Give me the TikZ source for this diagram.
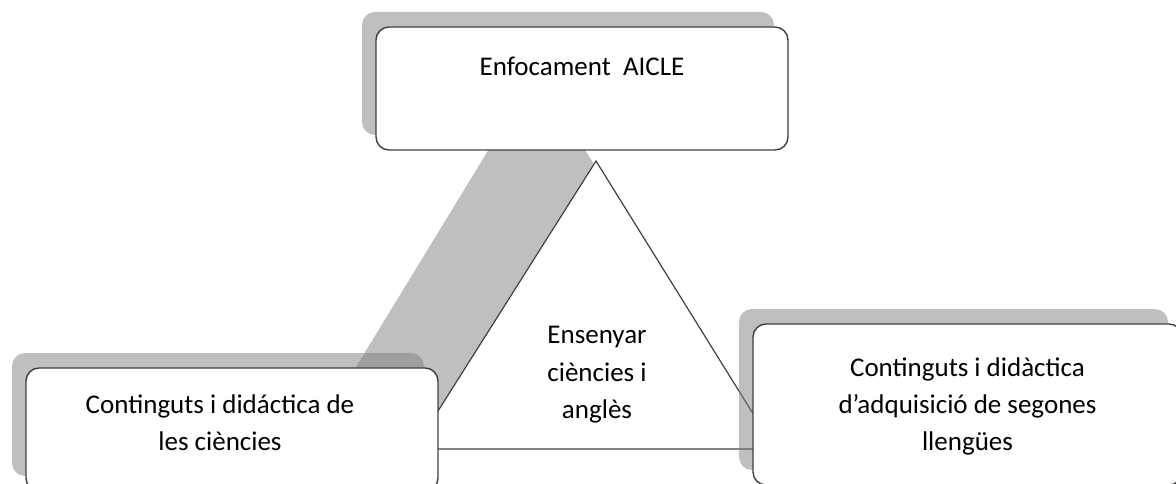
\documentclass[tikz,border=0pt]{standalone}
\usepackage{fontspec}
\setmainfont{Carlito}
\usetikzlibrary{shadows}

\tikzset{
    box/.style={draw=black!75, line width=1.4pt, rounded corners=13pt, fill=white,
        inner sep=0pt, align=center, font=\fontsize{27}{37}\selectfont,
        drop shadow={shadow xshift=-14pt, shadow yshift=15pt}},
    label/.style={inner sep=0pt, align=center, font=\fontsize{27}{37.5}\selectfont},
    triside/.style={draw=black!75, line width=1.2pt, fill=white},
    trishadow/.style={fill=black!50, opacity=0.5}
}
% text in the left box sits a little left of the middle
\newcommand{\lft}[1]{#1\hspace*{24pt}}

\begin{document}
\begin{tikzpicture}[x=1pt, y=-1pt]
        \useasboundingbox (0,0) rectangle (1176,484);
        \clip (0,0) rectangle (1176,484);

        % triangle and its shadow
        \coordinate (apex) at (596,161);
        \coordinate (baseL) at (414,449);
        \coordinate (baseR) at (775,449);
        \fill[trishadow] (536,72) -- (306,449) -- (773,449) -- cycle;
        \draw[triside] (apex) -- (baseL) -- (baseR) -- cycle;
        \node[label] (core) at (597,375) {Ensenyar\\ciències i\\anglès};

        % the three boxes
        \node[box, minimum width=412pt, minimum height=123pt, text height=49pt, text depth=74pt]
            (aicle) at (582,88.5) {Enfocament\ \ AICLE};
        \node[box, minimum width=412pt, minimum height=123pt, text height=82pt, text depth=41pt]
            (sci) at (232,429.5) {\lft{Continguts i didáctica de}\\\lft{les ciències}};
        \node[box, minimum width=429pt, minimum height=161pt, text height=126pt, text depth=35pt]
            (lang) at (967.5,404.5) {Continguts i didàctica\\d’adquisició de segones\\llengües};

    \end{tikzpicture}
\end{document}
